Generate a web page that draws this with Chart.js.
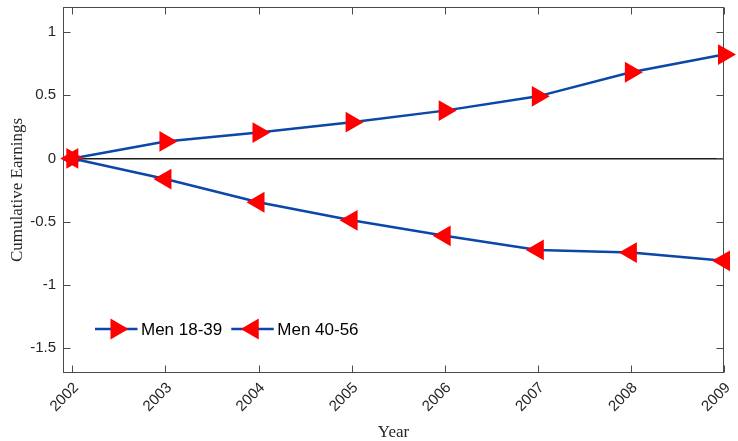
<!DOCTYPE html>
<html><head><meta charset="utf-8">
<script src="https://cdn.jsdelivr.net/npm/chart.js@4/dist/chart.umd.min.js"></script>
<style>html,body{margin:0;padding:0;background:#fff}#wrap{width:738px;height:441px;position:relative}</style>
</head><body><div id="wrap"><canvas id="c" width="738" height="441"></canvas></div>
<script>
const years = [2002, 2003, 2004, 2005, 2006, 2007, 2008, 2009];
const men1839 = [0, 0.135, 0.205, 0.287, 0.379, 0.492, 0.683, 0.823];
const men4056 = [0, -0.163, -0.347, -0.49, -0.613, -0.725, -0.746, -0.811];
const seriesLabels = ['Men 18-39', 'Men 40-56'];
const yTickValues = [-1.5, -1, -0.5, 0, 0.5, 1];
const xTitle = 'Year';
const yTitle = 'Cumulative Earnings';

const LINE = '#0a47a9', MARK = '#ff0000', AXIS = '#4a4a4a';
const SANS = "'Liberation Sans', Arial, sans-serif";
const SERIF = "'Liberation Serif', 'Times New Roman', serif";

function tri(ctx, x, y, r, deg) {
  let rad = deg * Math.PI / 180;
  ctx.beginPath();
  ctx.moveTo(x + Math.sin(rad) * r, y - Math.cos(rad) * r);
  rad += 2 * Math.PI / 3;
  ctx.lineTo(x + Math.sin(rad) * r, y - Math.cos(rad) * r);
  rad += 2 * Math.PI / 3;
  ctx.lineTo(x + Math.sin(rad) * r, y - Math.cos(rad) * r);
  ctx.closePath();
  ctx.fill();
}

const boxPlugin = {
  id: 'box',
  beforeDatasetsDraw(chart) {
    const {ctx, chartArea: a, scales: {x, y}} = chart;
    ctx.save();
    ctx.strokeStyle = AXIS;
    ctx.lineWidth = 1;
    const L = Math.round(a.left) + 0.5, R = Math.round(a.right) - 0.5;
    const T = Math.round(a.top) + 0.5, B = Math.round(a.bottom) - 0.5;
    ctx.strokeRect(L, T, R - L, B - T);
    const tl = 7;
    ctx.beginPath();
    x.ticks.forEach(t => {
      const px = Math.round(x.getPixelForValue(t.value)) + 0.5;
      ctx.moveTo(px, B); ctx.lineTo(px, B - tl);
      ctx.moveTo(px, T); ctx.lineTo(px, T + tl);
    });
    y.ticks.forEach(t => {
      const py = Math.round(y.getPixelForValue(t.value)) + 0.5;
      ctx.moveTo(L, py); ctx.lineTo(L + tl, py);
      ctx.moveTo(R, py); ctx.lineTo(R - tl, py);
    });
    ctx.stroke();
    ctx.restore();
  }
};

const legendPlugin = {
  id: 'mlegend',
  afterDraw(chart) {
    const {ctx, chartArea: a} = chart;
    ctx.save();
    ctx.font = '17px ' + SANS;
    ctx.textBaseline = 'middle';
    ctx.fillStyle = '#000';
    let x0 = a.left + 32;
    const yc = a.top + 322;
    chart.data.datasets.forEach((ds, i) => {
      ctx.strokeStyle = ds.borderColor;
      ctx.lineWidth = ds.borderWidth;
      ctx.beginPath();
      ctx.moveTo(x0, yc); ctx.lineTo(x0 + 42.5, yc);
      ctx.stroke();
      ctx.fillStyle = MARK;
      tri(ctx, x0 + 21.5, yc, 12, ds.pointRotation);
      ctx.fillStyle = '#000';
      ctx.fillText(ds.label, x0 + 46, yc + 1);
      x0 += 46 + ctx.measureText(ds.label).width + 9;
    });
    ctx.restore();
  }
};

new Chart(document.getElementById('c'), {
  type: 'line',
  data: {
    datasets: [
      {
        label: seriesLabels[0],
        data: years.map((yr, i) => ({x: yr, y: men1839[i]})),
        borderColor: LINE, borderWidth: 2.5, tension: 0,
        pointStyle: 'triangle', pointRotation: 90, pointRadius: 12,
        pointBackgroundColor: MARK, pointBorderColor: MARK, pointBorderWidth: 0,
        clip: false, order: 1
      },
      {
        label: seriesLabels[1],
        data: years.map((yr, i) => ({x: yr, y: men4056[i]})),
        borderColor: LINE, borderWidth: 2.5, tension: 0,
        pointStyle: 'triangle', pointRotation: 270, pointRadius: 12,
        pointBackgroundColor: MARK, pointBorderColor: MARK, pointBorderWidth: 0,
        clip: false, order: 0
      }
    ]
  },
  options: {
    responsive: false,
    animation: false,
    devicePixelRatio: 1,
    layout: {autoPadding: false, padding: {top: 7, right: 14, left: 0, bottom: 0}},
    plugins: {legend: {display: false}, tooltip: {enabled: false}},
    scales: {
      x: {
        type: 'linear', min: 2001.9, max: 2009,
        afterBuildTicks: s => { s.ticks = years.map(v => ({value: v})); },
        afterFit: s => { s.height = 68; s.paddingLeft = 0; s.paddingRight = 0; },
        grid: {display: false, drawTicks: false},
        border: {display: false},
        ticks: {
          minRotation: 45, maxRotation: 45, padding: 6, labelOffset: 4,
          color: '#262626', font: {family: SANS, size: 15},
          callback: v => String(v)
        },
        title: {display: true, text: xTitle, color: '#262626',
          font: {family: SERIF, size: 17, lineHeight: 1}, padding: {top: 0, bottom: 0}}
      },
      y: {
        type: 'linear', min: -1.7, max: 1.2,
        afterBuildTicks: s => { s.ticks = yTickValues.map(v => ({value: v})); },
        afterFit: s => { s.width = 63; s.paddingTop = 0; s.paddingBottom = 0; },
        grid: {
          drawTicks: false,
          color: c => (c.tick && c.tick.value === 0) ? '#1a1a1a' : 'rgba(0,0,0,0)',
          lineWidth: 1.5
        },
        border: {display: false},
        ticks: {padding: 7, color: '#262626', font: {family: SANS, size: 15},
          callback: v => String(v)},
        title: {display: true, text: yTitle, color: '#262626',
          font: {family: SERIF, size: 17, lineHeight: 1}, padding: {top: 9, bottom: 0}}
      }
    }
  },
  plugins: [boxPlugin, legendPlugin]
});
</script></body></html>
